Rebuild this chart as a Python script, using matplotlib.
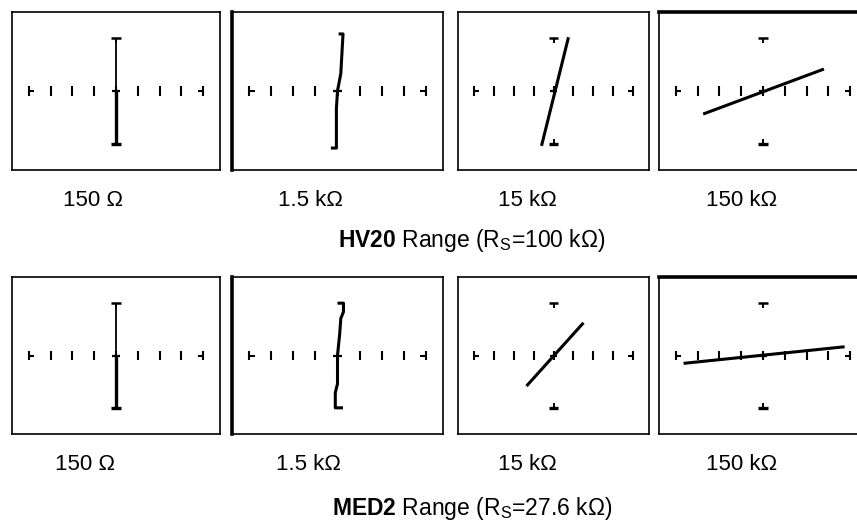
import matplotlib.pyplot as plt

plt.rcParams['font.family'] = ['Liberation Sans', 'DejaVu Sans']
plt.rcParams['mathtext.fontset'] = 'custom'
plt.rcParams['mathtext.rm'] = 'Liberation Sans'
plt.rcParams['mathtext.bf'] = 'Liberation Sans:bold'

# test loads shown under each screen
loads = ['150 Ω', '1.5 kΩ', '15 kΩ', '150 kΩ']
range_names = ['HV20', 'MED2']
range_rs = ['100 kΩ', '27.6 kΩ']

hv20_traces = [
    [(0.0, -2.4), (0.0, 2.4)],
    [(-0.3, -2.6), (-0.05, -2.6), (-0.05, -0.8), (0.0, 0.0), (0.15, 0.8), (0.25, 2.6), (0.05, 2.6)],
    [(-0.6, -2.5), (0.75, 2.45)],
    [(-2.75, -1.05), (2.8, 1.0)],
]
med2_traces = [
    [(0.0, -2.4), (0.0, 2.4)],
    [(0.25, -2.4), (-0.1, -2.4), (-0.1, -1.7), (0.0, -1.3), (0.0, 0.0), (0.1, 1.0), (0.15, 1.7), (0.27, 2.0), (0.27, 2.4), (0.0, 2.4)],
    [(-1.35, -1.4), (1.5, 1.5)],
    [(-3.65, -0.36), (3.75, 0.4)],
]
graticule = [-4, -3, -2, -1, 0, 1, 2, 3, 4]
cap_y = 2.4

W, H = 857, 520
fig = plt.figure(figsize=(W / 100, H / 100), dpi=100)

cols = [(12, 220), (232, 443), (458, 649), (659, 867)]
rows = [(12, 170), (277, 434)]
label_x = [[93, 311, 527, 742], [85, 309, 527, 742]]
label_y = [200, 465]
title_y = [240, 508]


def px_axes(left, top, right, bottom):
    return fig.add_axes([left / W, 1 - bottom / H, (right - left) / W, (bottom - top) / H])


for r, traces in enumerate([hv20_traces, med2_traces]):
    top, bottom = rows[r]
    for c, trace in enumerate(traces):
        left, right = cols[c]
        ax = px_axes(left, top, right, bottom)
        ax.set_xlim(-4.78, 4.78)
        ax.set_ylim(-3.6, 3.6)
        ax.set_xticks([])
        ax.set_yticks([])
        for s in ax.spines.values():
            s.set_linewidth(1.2)
        if c == 1:
            ax.spines['left'].set_linewidth(2.6)
        if c == 3:
            ax.spines['top'].set_linewidth(2.6)

        # graticule on the centre line
        ax.vlines(graticule, -0.22, 0.22, color='black', lw=1.5)
        ax.hlines(0, graticule[0], graticule[0] + 0.25, color='black', lw=1.5)
        ax.hlines(0, graticule[-1] - 0.25, graticule[-1], color='black', lw=1.5)
        ax.hlines(0, -0.2, 0.2, color='black', lw=1.6)

        # end markers
        if c != 1:
            ax.hlines(cap_y, -0.25, 0.25, color='black', lw=1.8)
            ax.vlines(0, cap_y - 0.2, cap_y, color='black', lw=1.4)
            ax.hlines(-cap_y, -0.25, 0.25, color='black', lw=2.4)
            ax.vlines(0, -cap_y, -cap_y + 0.2, color='black', lw=1.4)

        xs = [p[0] for p in trace]
        ys = [p[1] for p in trace]
        if c == 0:
            # short circuit trace: upper half drawn thinner on the screen
            ax.plot(xs, [min(y, 0) for y in ys], color='black', lw=2.4, solid_capstyle='butt')
            ax.plot(xs, [max(y, 0) for y in ys], color='black', lw=1.3, solid_capstyle='butt')
        else:
            ax.plot(xs, ys, color='black', lw=2.2, solid_capstyle='butt')

        fig.text(label_x[r][c] / W, 1 - label_y[r] / H, loads[c],
                 ha='center', va='center', fontsize=16)

    fig.text(472 / W, 1 - title_y[r] / H,
             r'$\mathbf{' + range_names[r] + r'}$ Range (R$_\mathrm{S}$=' + range_rs[r] + ')',
             ha='center', va='center', fontsize=16.5)

fig.savefig('out.png', dpi=100)
